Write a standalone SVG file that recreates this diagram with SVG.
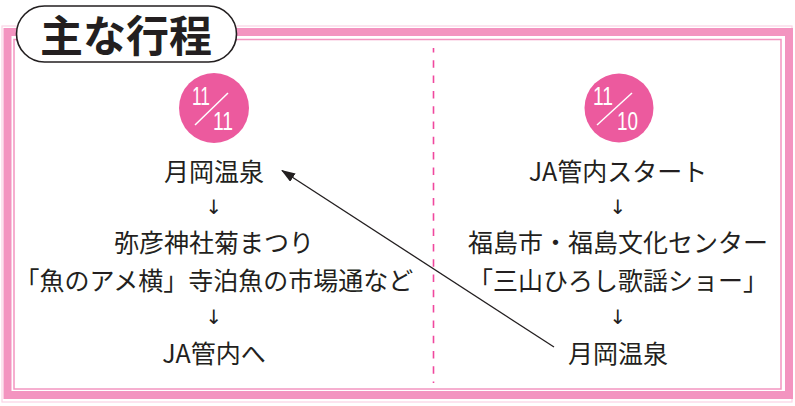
<svg xmlns="http://www.w3.org/2000/svg" width="795" height="406" viewBox="0 0 795 406">
<style>
.t{font-family:"Noto Sans CJK JP","Liberation Sans",sans-serif;font-size:25px;fill:#231f20;text-anchor:middle}
.ar{font-family:"DejaVu Sans",sans-serif;font-size:20px;fill:#231f20;text-anchor:middle}
.d{font-family:"Liberation Sans",Arial,sans-serif;font-size:25px;fill:#fff}
</style>
<defs>
<marker id="ah" markerWidth="14" markerHeight="10" refX="13" refY="5" orient="auto" markerUnits="userSpaceOnUse">
<path d="M0,0 L14,5 L0,10 Z" fill="#231f20"/>
</marker>
</defs>
<rect width="795" height="406" fill="#fff"/>
<g id="frame">
<rect x="2" y="26" width="790" height="376" fill="none" stroke="#fbd3e5" stroke-width="1.2"/>
<rect x="7.5" y="32" width="781.5" height="363" fill="none" stroke="#f394c0" stroke-width="8"/>
<rect x="14" y="39.5" width="767" height="349.5" fill="none" stroke="#f394c0" stroke-width="1.5"/>
<line x1="433.5" y1="48" x2="433.5" y2="383" stroke="#f0489e" stroke-width="1.6" stroke-dasharray="7.5 7.8" stroke-dashoffset="3"/>
</g>
<g id="title">
<rect x="16.5" y="6" width="220" height="56" rx="28" fill="#fff" stroke="#231f20" stroke-width="1.6"/>
<text x="126" y="52" font-family="Noto Sans CJK JP,sans-serif" font-size="43" font-weight="bold" fill="#231f20" text-anchor="middle">主な行程</text>
</g>
<g id="date-left">
<circle cx="214" cy="108" r="35" fill="#ec5a9e"/>
<text class="d" x="192" y="105" textLength="18" lengthAdjust="spacingAndGlyphs">11</text>
<line x1="195" y1="125" x2="228" y2="93" stroke="#fff" stroke-width="1.5"/>
<text class="d" x="213" y="130" textLength="20" lengthAdjust="spacingAndGlyphs">11</text>
</g>
<g id="date-right">
<circle cx="619" cy="108" r="34.5" fill="#ec5a9e"/>
<text class="d" x="593" y="105" textLength="20" lengthAdjust="spacingAndGlyphs">11</text>
<line x1="597" y1="125" x2="632" y2="93" stroke="#fff" stroke-width="1.5"/>
<text class="d" x="617" y="130" textLength="21" lengthAdjust="spacingAndGlyphs">10</text>
</g>
<g id="left-col">
<text class="t" x="214" y="181">月岡温泉</text>
<text class="ar" x="214" y="214">↓</text>
<text class="t" x="214" y="252">弥彦神社菊まつり</text>
<text class="t" x="214" y="290">「魚のアメ横」寺泊魚の市場通など</text>
<text class="ar" x="214" y="324">↓</text>
<text class="t" x="214" y="363">JA管内へ</text>
</g>
<g id="right-col">
<text class="t" x="618" y="181">JA管内スタート</text>
<text class="ar" x="618" y="214">↓</text>
<text class="t" x="618" y="252">福島市・福島文化センター</text>
<text class="t" x="618" y="290">「三山ひろし歌謡ショー」</text>
<text class="ar" x="618" y="324">↓</text>
<text class="t" x="618" y="363">月岡温泉</text>
</g>
<g id="connectors">
<line x1="554" y1="347" x2="282" y2="170.5" stroke="#231f20" stroke-width="1.3" marker-end="url(#ah)"/>
</g>
</svg>
